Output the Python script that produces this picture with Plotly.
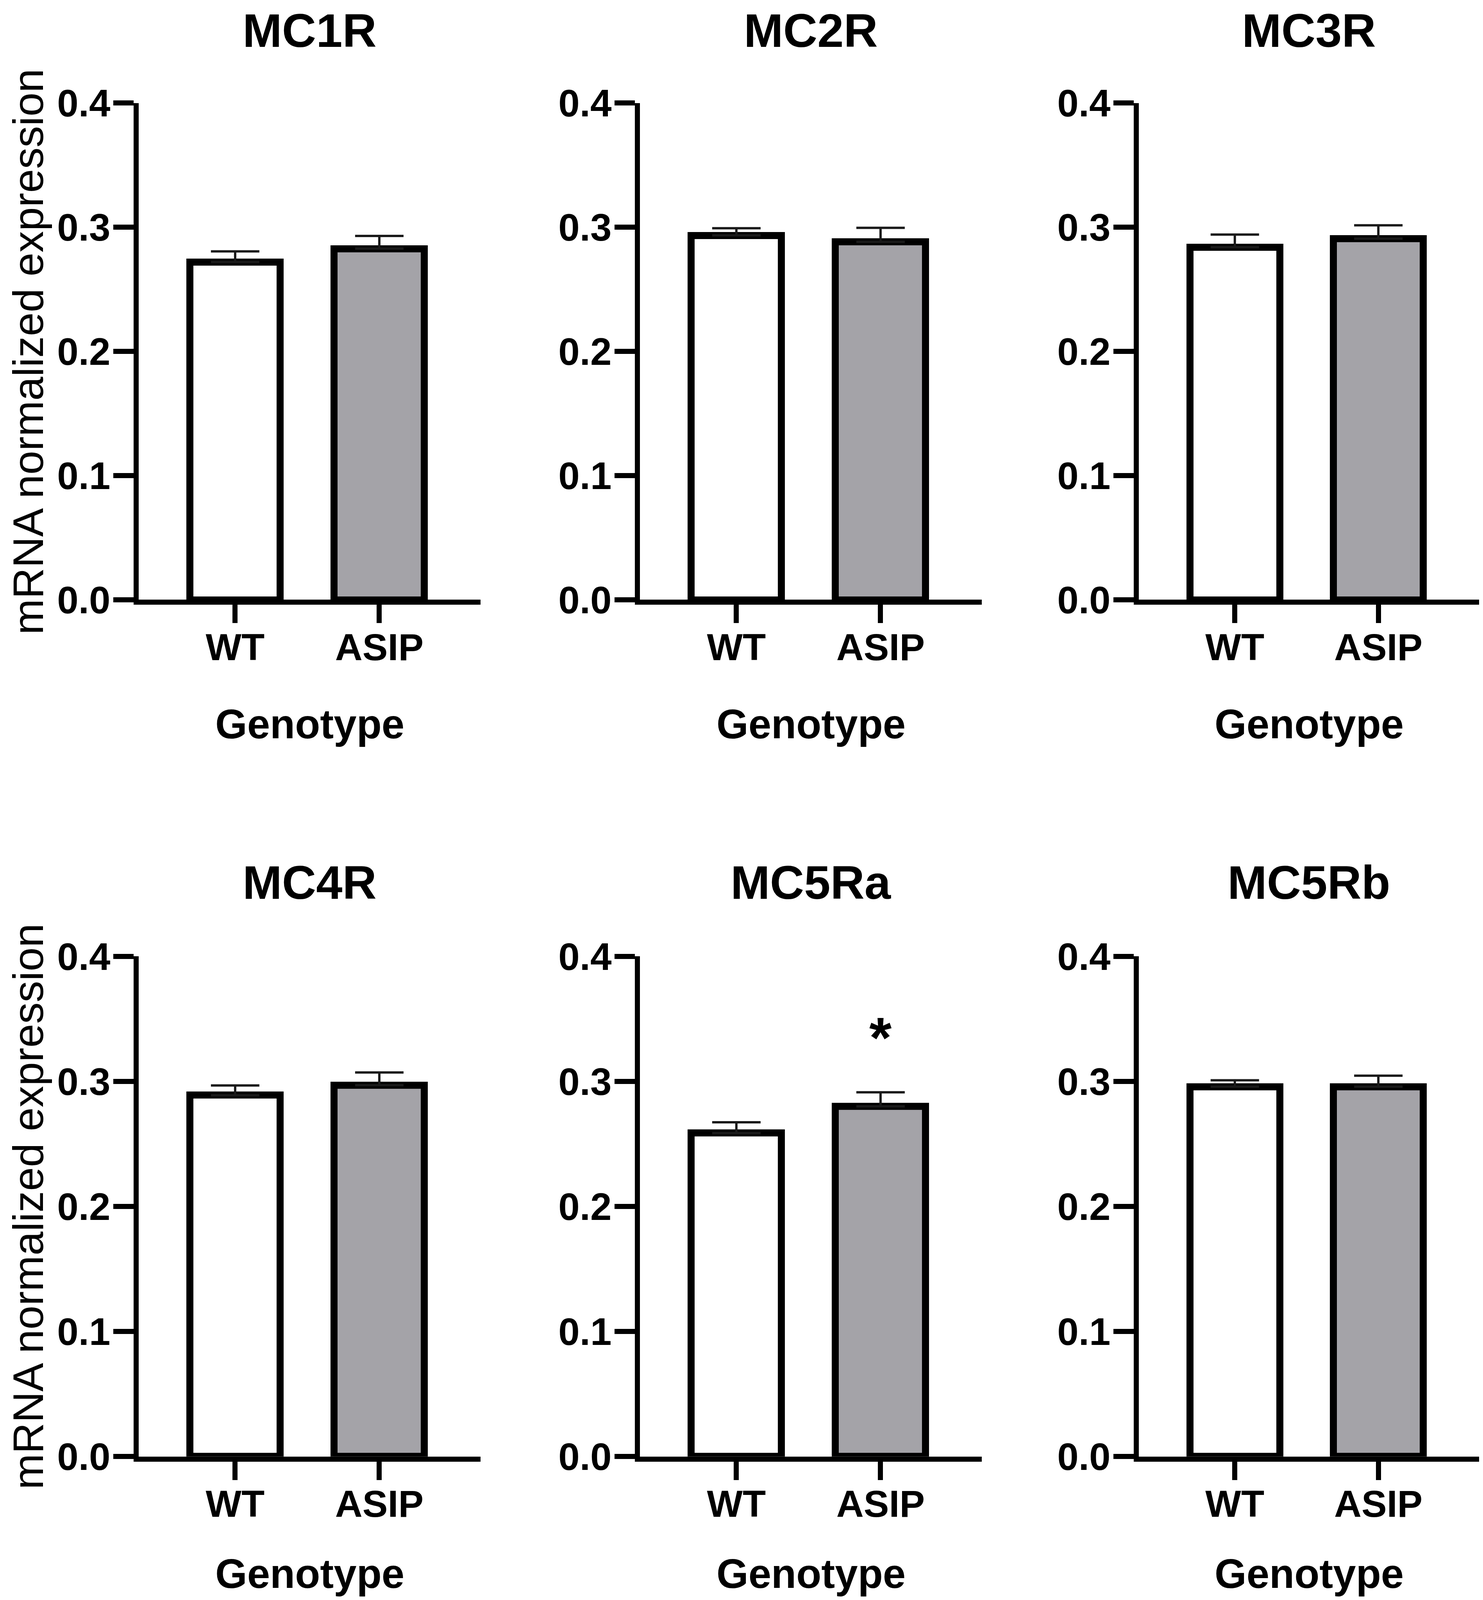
import plotly.graph_objects as go
from plotly.subplots import make_subplots

genes = ['MC1R', 'MC2R', 'MC3R', 'MC4R', 'MC5Ra', 'MC5Rb']
genotypes = ['WT', 'ASIP']
wt_mean = [0.272, 0.2935, 0.284, 0.289, 0.2587, 0.2958]
wt_sem = [0.0086, 0.0057, 0.0101, 0.0078, 0.0086, 0.0051]
asip_mean = [0.2828, 0.2882, 0.2908, 0.297, 0.2801, 0.2958]
asip_sem = [0.0102, 0.0113, 0.0108, 0.0102, 0.0112, 0.0088]
stars = ['', '', '', '', '*', '']
yticks = [0.0, 0.1, 0.2, 0.3, 0.4]

# visible page is ~4105px tall (window minus browser chrome), body margin 8px
OFF = 8
VIEW_H = 4105
K = VIEW_H / 4200  # squeeze reference y positions into the visible height
W, H = 3796 - 2 * OFF, VIEW_H - 2 * OFF - 4
FONT = 'Liberation Sans, Arial, sans-serif'

# panel geometry in reference pixels
col_x = [(355, 1230), (1638, 2513), (2915, 3786)]
row_y = [(270, 1571), (2505, 3815)]
title_top = [0, 2240]
xtitle_top = [1834, None]
ytitle_y = [921, 3160]


def px(x):
    return (x - OFF) / W


def py(y):
    return 1 - (y * K - OFF) / H


fig = make_subplots(rows=2, cols=3)

for i, g in enumerate(genes):
    r, c = i // 3 + 1, i % 3 + 1
    fig.add_trace(go.Bar(
        x=genotypes, y=[wt_mean[i], asip_mean[i]],
        width=0.626,
        marker=dict(color=['#ffffff', '#a4a3a8'], line=dict(color='black', width=18)),
        error_y=dict(type='data', array=[wt_sem[i], asip_sem[i]], arrayminus=[0, 0],
                     symmetric=False, color='#1a1a1a', thickness=6, width=62),
        showlegend=False), row=r, col=c)

annotations = []
for i, g in enumerate(genes):
    r, c = i // 3, i % 3
    n = i + 1
    xs = '' if n == 1 else str(n)
    x0, x1 = col_x[c]
    y0, y1 = row_y[r]
    fig.layout['xaxis' + xs].update(domain=[px(x0), px(x1)])
    fig.layout['yaxis' + xs].update(domain=[py(y1), py(y0)])
    xc = px((x0 + x1) / 2)
    # panel title
    ty = 1 if r == 0 else py(title_top[r])
    annotations.append(dict(text='<b>' + g + '</b>', x=xc, y=ty,
                            xref='paper', yref='paper', showarrow=False,
                            xanchor='center', yanchor='top',
                            font=dict(family=FONT, size=121, color='black')))
    # x axis title
    if xtitle_top[r] is not None:
        gy, ga = py(xtitle_top[r]), 'top'
    else:
        gy, ga = 4 / H, 'bottom'
    annotations.append(dict(text='<b>Genotype</b>', x=xc, y=gy,
                            xref='paper', yref='paper', showarrow=False,
                            xanchor='center', yanchor=ga,
                            font=dict(family=FONT, size=105, color='black')))
    if stars[i]:
        annotations.append(dict(text='<b>' + stars[i] + '</b>', x='ASIP', y=0.335,
                                xref='x' + xs, yref='y' + xs, showarrow=False,
                                xanchor='center', yanchor='middle',
                                font=dict(family=FONT, size=147, color='black')))

for r in range(2):
    annotations.append(dict(text='mRNA normalized expression', x=0,
                            y=py(ytitle_y[r]), xref='paper', yref='paper',
                            showarrow=False, textangle=-90,
                            xanchor='left', yanchor='middle',
                            font=dict(family=FONT, size=110, color='black')))

fig.update_xaxes(range=[-0.669, 1.702], showline=True, linewidth=13, linecolor='black',
                 ticks='outside', ticklen=47, tickwidth=13, tickcolor='black',
                 ticklabelstandoff=-22, automargin=False,
                 showgrid=False, zeroline=False,
                 tickfont=dict(family=FONT, size=97, color='black', weight='bold'))
fig.update_yaxes(range=[0, 0.4], showline=True, linewidth=13, linecolor='black',
                 ticks='outside', ticklen=52, tickwidth=13, tickcolor='black',
                 ticklabelstandoff=-12,
                 tickvals=yticks, tickformat='.1f', showgrid=False, zeroline=False,
                 automargin=False,
                 tickfont=dict(family=FONT, size=98, color='black', weight='bold'))

fig.update_layout(template='none', width=W, height=H,
                  margin=dict(l=0, r=0, t=0, b=0, pad=0, autoexpand=False),
                  paper_bgcolor='white', plot_bgcolor='white',
                  annotations=annotations, bargap=0)

fig.write_html('out.html')
